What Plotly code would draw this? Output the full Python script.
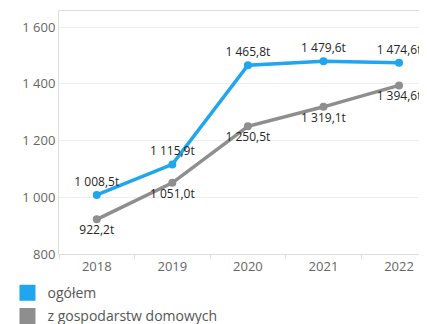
import plotly.graph_objects as go

years = ["2018", "2019", "2020", "2021", "2022"]
ogolem = [1008.5, 1115.9, 1465.8, 1479.6, 1474.6]
domowe = [922.2, 1051.0, 1250.5, 1319.1, 1394.6]
series_names = ["ogółem", "z gospodarstw domowych"]
y_tickvals = [800, 1000, 1200, 1400, 1600]
y_ticktext = ["800", "1 000", "1 200", "1 400", "1 600"]

BLUE = "#1FA6EE"
GREY = "#8E8E8E"


def fmt(v):
    s = f"{v:,.1f}".replace(",", " ").replace(".", ",")
    return s + "t"


fig = go.Figure()
fig.add_trace(go.Scatter(
    x=years, y=ogolem, mode="lines+markers+text",
    line=dict(color=BLUE, width=3.5), marker=dict(size=8, color=BLUE),
    text=[fmt(v) for v in ogolem], textposition="top center",
    textfont=dict(size=12, color="#262626"), showlegend=False, cliponaxis=False))
fig.add_trace(go.Scatter(
    x=years, y=domowe, mode="lines+markers+text",
    line=dict(color=GREY, width=3.5), marker=dict(size=8, color=GREY),
    text=[fmt(v) for v in domowe], textposition="bottom center",
    textfont=dict(size=12, color="#262626"), showlegend=False, cliponaxis=False))
# legend entries (square swatches)
for name, col in zip(series_names, [BLUE, GREY]):
    fig.add_trace(go.Scatter(
        x=[None], y=[None], mode="markers", name=name, legendgroup=name,
        marker=dict(symbol="square", size=16, color=col)))

# the page body has an 8px margin, so the figure is 8px smaller and margins shifted
fig.update_layout(
    width=419, height=316,
    margin=dict(l=51, r=0, t=3, b=70, autoexpand=False),
    paper_bgcolor="white", plot_bgcolor="white",
    font=dict(family="Open Sans, Noto Sans, sans-serif", size=13, color="#666666"),
    legend=dict(orientation="v", x=-0.14, xanchor="left", y=-0.095, yanchor="top",
                font=dict(size=14, color="#555555"), tracegroupgap=2,
                traceorder="grouped", bgcolor="rgba(0,0,0,0)"),
    xaxis=dict(type="category", range=[-0.5, 4.37], showgrid=False,
               showline=True, linecolor="#dddddd", linewidth=1, mirror=True,
               ticks="outside", tickson="boundaries", ticklen=4, tickcolor="#dddddd",
               tickfont=dict(size=13, color="#666666"), automargin=False),
    yaxis=dict(range=[800, 1657], tickvals=y_tickvals, ticktext=y_ticktext,
               showgrid=True, gridcolor="#eeeeee", gridwidth=1,
               showline=True, linecolor="#dddddd", linewidth=1, mirror=True,
               zeroline=False, ticks="", tickfont=dict(size=13, color="#666666"),
               automargin=False),
)

fig.write_html("out.html")
